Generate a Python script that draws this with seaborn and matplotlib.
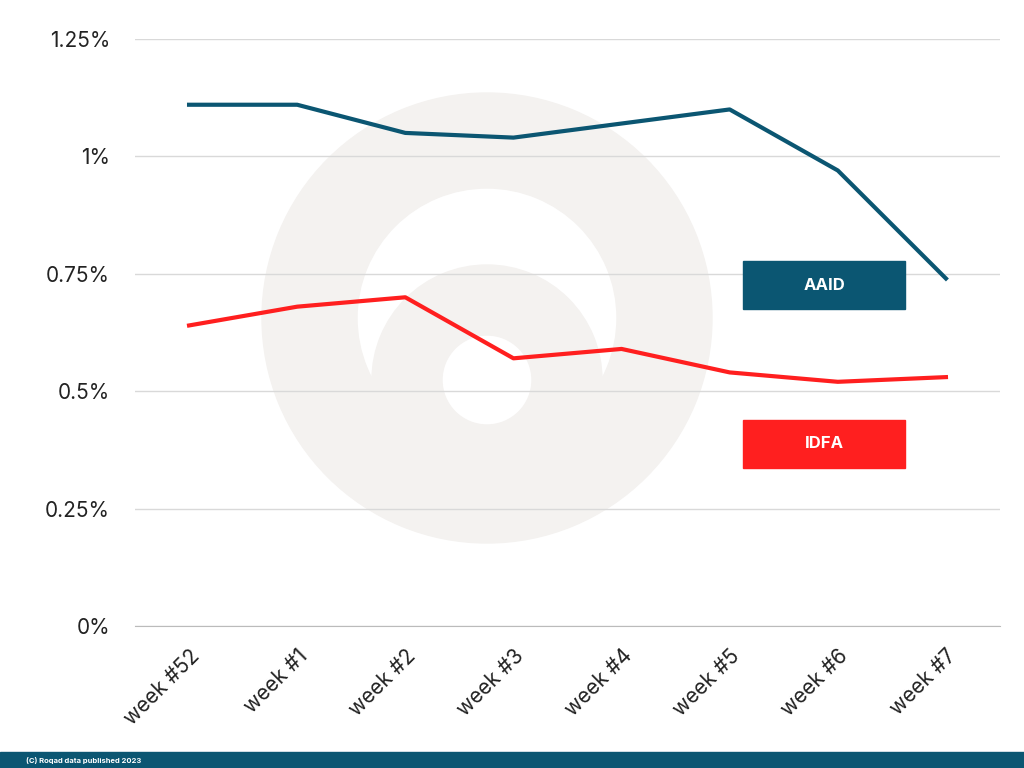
import matplotlib
matplotlib.use("Agg")
import matplotlib.pyplot as plt
import seaborn as sns
import pandas as pd
from matplotlib.patches import Rectangle, Wedge
from matplotlib.ticker import FixedLocator

plt.rcParams["font.family"] = "Inter"

weeks = ["week #52", "week #1", "week #2", "week #3", "week #4", "week #5", "week #6", "week #7"]
aaid = [1.11, 1.11, 1.05, 1.04, 1.07, 1.10, 0.97, 0.74]
idfa = [0.64, 0.68, 0.70, 0.57, 0.59, 0.54, 0.52, 0.53]
ytick_vals = [0, 0.25, 0.5, 0.75, 1.0, 1.25]
ytick_labels = ["0%", "0.25%", "0.5%", "0.75%", "1%", "1.25%"]

C_AAID = "#0b5672"
C_IDFA = "#ff1f1f"

df = pd.DataFrame({"week": weeks * 2, "value": aaid + idfa,
                   "series": ["AAID"] * len(weeks) + ["IDFA"] * len(weeks)})
df["x"] = list(range(len(weeks))) * 2

fig = plt.figure(figsize=(10.24, 7.68), dpi=100)
fig.patch.set_facecolor("white")
W, H = 1024, 768
def fx(p): return p / W
def fy(p): return 1 - p / H

wm = fig.add_axes([0, 0, 1, 1], zorder=0)
wm.set_xlim(0, W); wm.set_ylim(H, 0); wm.axis("off")
wm.set_aspect("equal")
wm.add_patch(Wedge((487, 318), 225, 0, 360, width=95, color="#f4f2f0"))
wm.add_patch(Wedge((487, 380), 115, 0, 360, width=70, color="#f4f2f0"))

ax = fig.add_axes([fx(135), fy(626), fx(1000) - fx(135), fy(39) - fy(626)], zorder=1)
ax.patch.set_alpha(0)
sns.lineplot(data=df, x="x", y="value", hue="series", palette={"AAID": C_AAID, "IDFA": C_IDFA},
             linewidth=3, legend=False, ax=ax)
ax.set_xlim(-0.5, len(weeks) - 0.5)
ax.set_ylim(0, 1.25)
ax.yaxis.set_major_locator(FixedLocator(ytick_vals))
ax.set_yticklabels(ytick_labels, fontsize=15, color="#222222")
ax.set_xticks(range(len(weeks)))
ax.set_xticklabels(weeks, rotation=45, ha="right", rotation_mode="anchor", fontsize=15, color="#222222")
ax.tick_params(length=0, pad=14)
ax.tick_params(axis="y", pad=18)
ax.grid(axis="y", color="#d9d9d9", linewidth=1)
ax.set_axisbelow(True)
for s in ["top", "right", "left"]:
    ax.spines[s].set_visible(False)
ax.spines["bottom"].set_color("#bbbbbb")
ax.set_xlabel(""); ax.set_ylabel("")

for name, col, y0 in [("AAID", C_AAID, 261), ("IDFA", C_IDFA, 420)]:
    fig.patches.append(Rectangle((fx(743), fy(y0 + 48)), fx(162), 48 / H,
                                 transform=fig.transFigure, color=col, zorder=3))
    fig.text(fx(824), fy(y0 + 24), name, ha="center", va="center",
             color="white", fontsize=12, fontweight="bold", zorder=4)

fig.patches.append(Rectangle((0, 0), 1, 16 / H, transform=fig.transFigure,
                             color="#0b5672", zorder=3))
fig.text(fx(26), fy(760), "(C) Roqad data published 2023", ha="left", va="center",
         color="white", fontsize=5.5, fontweight="bold", zorder=4)

fig.savefig("out.png", dpi=100)
